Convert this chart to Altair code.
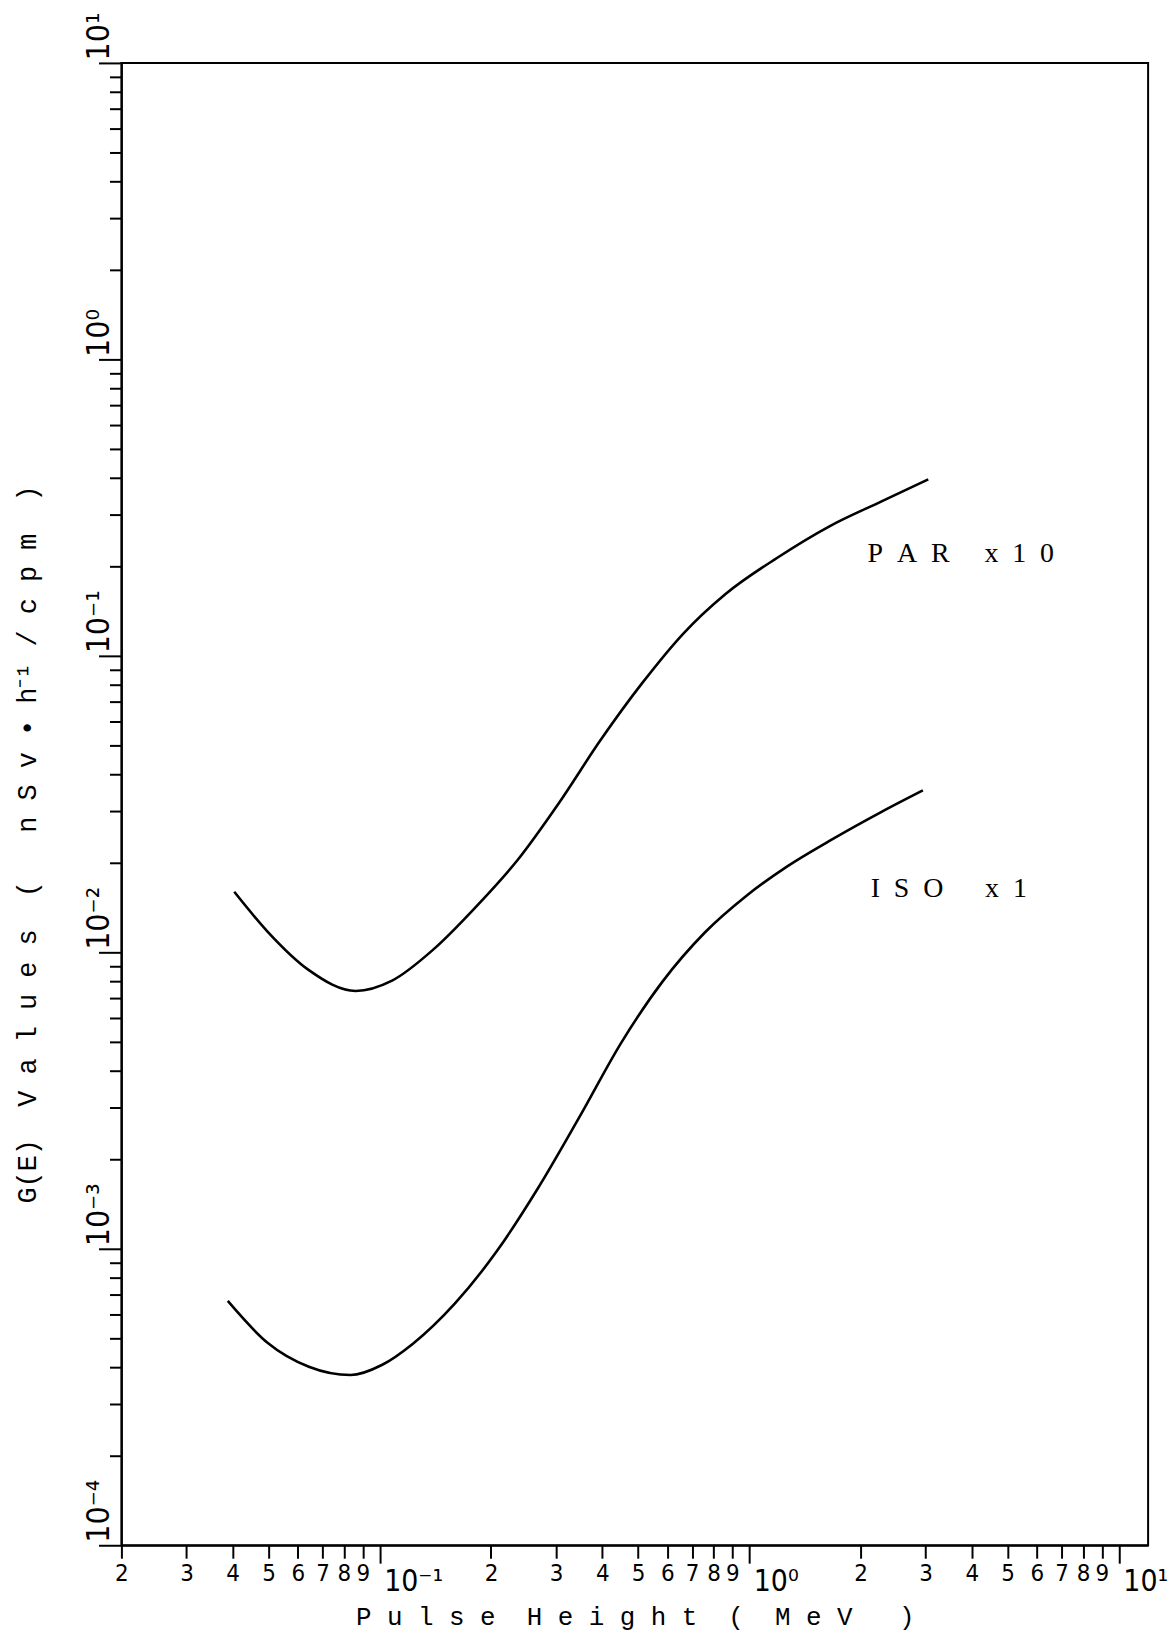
import altair as alt
import pandas as pd

# ---- data ----
par_x = [0.0404, 0.0497, 0.0643, 0.0861, 0.108, 0.140, 0.1815, 0.2355, 0.3055, 0.3955, 0.513, 0.665, 0.861, 1.191, 1.648, 2.28, 3.05]
par_y = [0.0160, 0.01175, 0.00871, 0.00741, 0.00803, 0.01025, 0.01417, 0.0204, 0.0319, 0.0519, 0.0809, 0.1194, 0.1614, 0.2143, 0.2735, 0.332, 0.394]

iso_x = [0.0388, 0.0497, 0.0643, 0.0834, 0.1013, 0.123, 0.1596, 0.2066, 0.268, 0.3475, 0.451, 0.583, 0.757, 0.981, 1.27, 1.648, 2.28, 2.95]
iso_y = [6.67e-4, 4.82e-4, 4.0e-4, 3.75e-4, 4.055e-4, 4.786e-4, 6.53e-4, 9.75e-4, 1.60e-3, 2.79e-3, 4.97e-3, 7.98e-3, 1.164e-2, 1.549e-2, 1.954e-2, 2.377e-2, 2.979e-2, 3.52e-2]

label_text = ["P\u00a0\u00a0A\u00a0\u00a0R\u2003\u00a0x\u00a0\u00a01\u00a0\u00a00",
              "I\u00a0\u00a0S\u00a0\u00a0O\u2003\u00a0\u00a0x\u00a0\u00a01"]
label_x = [2.09, 2.13]
label_y = [0.2065, 0.01542]

x_major = [0.1, 1, 10]
y_major = [1e-4, 1e-3, 1e-2, 1e-1, 1, 10]
x_ticks = [round(k * 10.0 ** e, 6) for e in (-2, -1, 0) for k in range(1, 10) if k * 10.0 ** e >= 0.02 - 1e-9] + [10]
y_ticks = [round(k * 10.0 ** e, 8) for e in (-4, -3, -2, -1, 0) for k in range(1, 10)] + [10]

sup = {-4: "\u207b\u2074", -3: "\u207b\u00b3", -2: "\u207b\u00b2", -1: "\u207b\u00b9", 0: "\u2070", 1: "\u00b9"}

S = "\u00a0"
x_title = S.join("Pulse") + S * 2 + S.join("Height") + S * 2 + "(" + S * 2 + S.join("MeV") + S * 3 + ")"
y_title = ("G(E)" + S * 2 + S.join("Values") + S * 2 + "(" + S * 3 +
           S.join(["n", "S", "v", "\u2022", "h\u207b\u00b9", "/", "c", "p", "m"]) + S * 2 + ")")

# ---- tables ----
df_par = pd.DataFrame({"x": par_x, "y": par_y, "s": "PAR"})
df_iso = pd.DataFrame({"x": iso_x, "y": iso_y, "s": "ISO"})
df_lines = pd.concat([df_par, df_iso], ignore_index=True)
df_lab = pd.DataFrame({"x": label_x, "y": label_y, "t": label_text})

def major_test(vals):
    return "indexof([" + ",".join(repr(v) for v in vals) + "], datum.value) >= 0"

x_major_t = major_test(x_major)
y_major_t = major_test(y_major)

x_label_expr = ("datum.value == 0.1 ? '10" + sup[-1] + "' : datum.value == 1 ? '10" + sup[0] +
                "' : datum.value == 10 ? '10" + sup[1] +
                "' : format(datum.value / pow(10, floor(log(datum.value) / LN10 + 1e-9)), '.0f')")
y_label_expr = ""
for v, e in zip(y_major, (-4, -3, -2, -1, 0, 1)):
    y_label_expr += "datum.value == " + repr(v) + " ? '10" + sup[e] + "' : "
y_label_expr += "''"

TICK_FONT = "Liberation Sans Narrow, DejaVu Sans Condensed, sans-serif"

xscale = alt.Scale(type="log", domain=[0.02, 12.0], nice=False)
yscale = alt.Scale(type="log", domain=[1e-4, 10], nice=False)

x_axis = alt.Axis(
    values=x_ticks, labelExpr=x_label_expr, grid=False,
    domainColor="black", domainWidth=2, tickColor="black", tickWidth=2,
    tickSize={"condition": {"test": x_major_t, "value": 18}, "value": 13},
    labelFont=TICK_FONT, labelColor="black",
    labelFontSize={"condition": {"test": x_major_t, "value": 30}, "value": 24},
    labelAlign={"condition": {"test": x_major_t, "value": "left"}, "value": "center"},
    labelOffset={"condition": {"test": x_major_t, "value": 4}, "value": 0},
    labelBaseline="top", labelPadding=3, labelFlush=False, labelOverlap=False,
    labelBound=False,
    title=x_title, titleFont="Liberation Mono", titleFontSize=26, titleFontWeight="normal",
    titleColor="black", titleY=80, titleBaseline="alphabetic",
)
y_axis = alt.Axis(
    values=y_ticks, labelExpr=y_label_expr, grid=False,
    domainColor="black", domainWidth=2, tickColor="black", tickWidth=2,
    tickSize={"condition": {"test": y_major_t, "value": 23}, "value": 12},
    labelFont=TICK_FONT, labelColor="black", labelFontSize=32,
    labelAngle=270, labelAlign="left", labelBaseline="alphabetic", labelPadding=-10,
    labelOffset=-3,
    labelFlush=False, labelOverlap=False, labelBound=False,
    title=y_title, titleFont="Liberation Mono", titleFontSize=27, titleFontWeight="normal",
    titleColor="black", titleAngle=270, titleX=-80, titleY=785, titleBaseline="bottom",
    titleAlign="center",
)

lines = alt.Chart(df_lines).mark_line(color="black", strokeWidth=2.6, interpolate="monotone").encode(
    x=alt.X("x:Q", scale=xscale, axis=x_axis),
    y=alt.Y("y:Q", scale=yscale, axis=y_axis),
    detail="s:N",
)
labels = alt.Chart(df_lab).mark_text(
    font="Liberation Serif", fontSize=28, color="black", align="left", baseline="alphabetic"
).encode(
    x=alt.X("x:Q", scale=xscale),
    y=alt.Y("y:Q", scale=yscale),
    text="t:N",
)

chart = alt.layer(lines, labels).properties(
    width=1032, height=1490,
    autosize=alt.AutoSizeParams(type="none"),
    padding={"left": 114, "top": 51, "right": 20, "bottom": 88},
    background="white",
).configure_view(stroke="black", strokeWidth=2)

chart.save("out.html", embed_options={"renderer": "svg", "actions": False})
